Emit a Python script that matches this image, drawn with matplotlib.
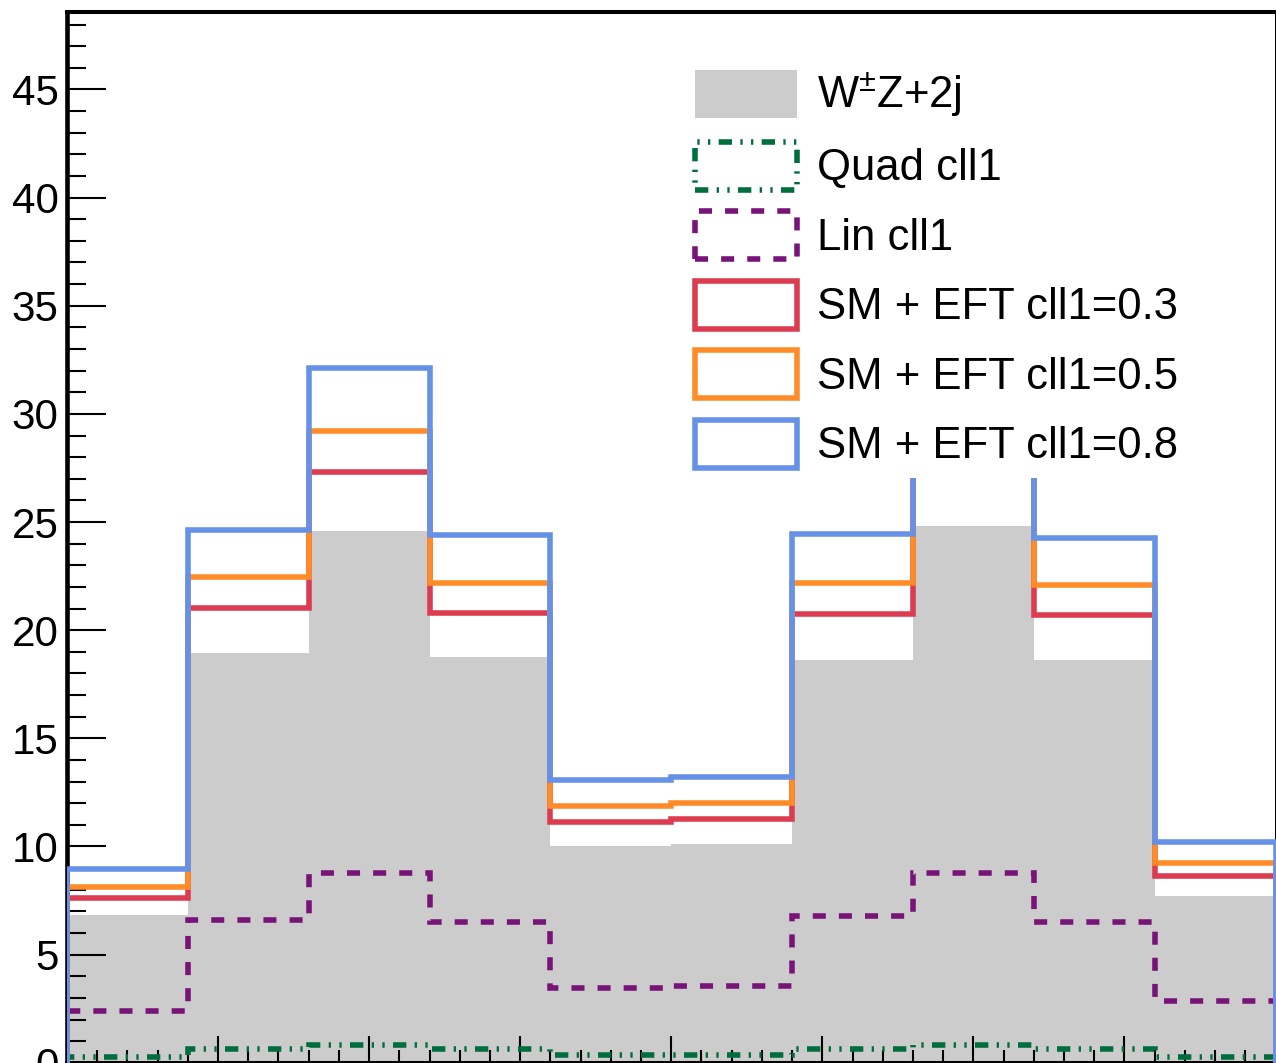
import matplotlib.pyplot as plt
import numpy as np
from matplotlib.patches import Patch

plt.rcParams['font.family'] = ['Liberation Sans', 'DejaVu Sans']
plt.rcParams['mathtext.fontset'] = 'custom'
plt.rcParams['mathtext.rm'] = 'Liberation Sans'
plt.rcParams['mathtext.it'] = 'Liberation Sans:italic'

# 10 bins, axis running 0..8
bin_edges = np.linspace(0, 8, 11)
sm_wz = [6.83, 18.95, 24.59, 18.75, 10.04, 10.13, 18.62, 24.83, 18.62, 7.71]
quad_cll1 = [0.25, 0.62, 0.82, 0.62, 0.35, 0.35, 0.62, 0.82, 0.62, 0.25]
lin_cll1 = [2.39, 6.59, 8.77, 6.51, 3.48, 3.53, 6.79, 8.77, 6.51, 2.86]
eft_03 = [7.63, 21.04, 27.31, 20.78, 11.13, 11.26, 20.75, 27.53, 20.69, 8.65]
eft_05 = [8.14, 22.44, 29.21, 22.20, 11.89, 12.03, 22.20, 29.42, 22.08, 9.25]
eft_08 = [8.95, 24.65, 32.12, 24.39, 13.07, 13.21, 24.45, 32.37, 24.26, 10.19]

gray = '#cccccc'
green = '#006e3c'
purple = '#781478'
red = '#dc3c50'
orange = '#ff8c28'
blue = '#6591e6'

lw = 4.0
ls_quad = (0, (2.4, 1.5, 0.42, 1.5, 0.42, 1.5))
ls_lin = (0, (2.35, 2.35))

W, H = 1276, 1063
fig = plt.figure(figsize=(W / 100, H / 100), dpi=100)
ax = fig.add_axes([67 / W, (H - 1062.8) / H, (1275.5 - 67) / W, (1062.8 - 12) / H])

ax.stairs(sm_wz, bin_edges, fill=True, color=gray, zorder=1)
ax.stairs(quad_cll1, bin_edges, color=green, lw=lw, linestyle=ls_quad, zorder=3)
ax.stairs(lin_cll1, bin_edges, color=purple, lw=lw, linestyle=ls_lin, zorder=3)
ax.stairs(eft_03, bin_edges, color=red, lw=lw, zorder=3)
ax.stairs(eft_05, bin_edges, color=orange, lw=lw, zorder=3)
ax.stairs(eft_08, bin_edges, color=blue, lw=lw, zorder=3)

ax.set_xlim(0, 8)
ax.set_ylim(0, 48.58)
ax.set_xticks(np.arange(0, 9, 1))
ax.set_xticks(np.arange(0, 8.01, 0.2), minor=True)
ax.set_yticks(np.arange(0, 50, 5))
ax.set_yticks(np.arange(0, 49, 1), minor=True)

ax.tick_params(axis='y', which='major', direction='in', length=28, width=1.5,
               labelsize=30.3, pad=6)
ax.tick_params(axis='y', which='minor', direction='in', length=13.7, width=1.5)
ax.tick_params(axis='x', which='major', direction='in', length=19.5, width=1.5,
               labelbottom=False)
ax.tick_params(axis='x', which='minor', direction='in', length=9.4, width=1.5)

ax.spines['left'].set_linewidth(3.3)
ax.spines['top'].set_linewidth(2.9)
ax.spines['bottom'].set_linewidth(2.9)
ax.spines['right'].set_linewidth(2.2)

handles = [
    Patch(facecolor=gray, edgecolor='none', label=r'W$^{\pm}$Z+2j'),
    Patch(facecolor='none', edgecolor=green, lw=lw, linestyle=ls_quad, label='Quad cll1'),
    Patch(facecolor='none', edgecolor=purple, lw=lw, linestyle=ls_lin, label='Lin cll1'),
    Patch(facecolor='none', edgecolor=red, lw=lw, label='SM + EFT cll1=0.3'),
    Patch(facecolor='none', edgecolor=orange, lw=lw, label='SM + EFT cll1=0.5'),
    Patch(facecolor='none', edgecolor=blue, lw=lw, label='SM + EFT cll1=0.8'),
]
leg = ax.legend(handles=handles, loc='upper left',
                bbox_to_anchor=(684 / W, 1 - 59 / H), bbox_transform=fig.transFigure,
                fontsize=31.4, handlelength=2.34, handleheight=1.305, handletextpad=0.45,
                labelspacing=0.5, borderpad=0.25, borderaxespad=0,
                frameon=True, fancybox=False, edgecolor='none', facecolor='white',
                framealpha=1)
leg.set_zorder(5)

plt.savefig('out.png', dpi=100)
